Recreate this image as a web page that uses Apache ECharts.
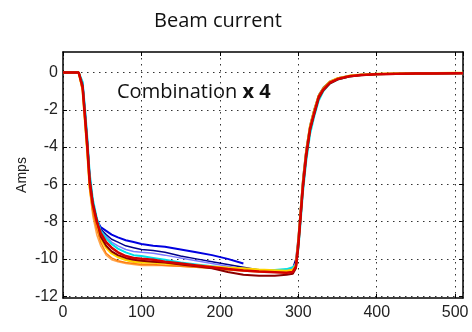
<!DOCTYPE html>
<html>
<head>
<meta charset="utf-8">
<script src="https://cdn.jsdelivr.net/npm/echarts@6/dist/echarts.min.js"></script>
<style>
  html, body { margin: 0; padding: 0; background: #fff; }
</style>
</head>
<body>
<div id="beamChart" style="width:472px;height:332px"></div>
<script>
// time samples (x) shared by all traces
var t = [0, 10, 20, 22, 25, 28, 31, 34, 38, 43, 48, 55, 62, 70, 80, 90, 100, 115, 130, 150,
  170, 190, 210, 230, 250, 270, 285, 293, 297, 300, 303, 306, 310, 315, 320, 326, 332, 340, 350, 365,
  380, 400, 425, 450, 475, 500, 510];

var blue = [0, 0, 0, -0.03, -0.6, -2.1, -3.7, -5.6, -7.0, -7.9, -8.3, -8.5, -8.7, -8.85, -9.0, -9.1, -9.2, -9.3, -9.35, -9.5,
  -9.65, -9.8, -10.0, -10.25, null, null, null, null, null, null, null, null, null, null, null, null, null, null, null, null,
  null, null, null, null, null, null, null];
var navy = [0, 0, 0, -0.03, -0.6, -2.1, -3.7, -5.6, -7.0, -7.9, -8.4, -8.7, -8.95, -9.1, -9.3, -9.4, -9.5, -9.55, -9.65, -9.85,
  -10.0, -10.15, -10.3, -10.45, -10.6, -10.62, -10.6, -10.5, -10.0, -8.8, -7.2, -5.6, -4.1, -2.8, -2.0, -1.2, -0.8, -0.48, -0.3, -0.17,
  -0.11, -0.08, -0.06, -0.05, -0.04, -0.03, -0.03];
var lavender = [0, 0, 0, -0.03, -0.6, -2.0, -3.6, -5.5, -6.9, -7.8, -8.5, -8.8, -9.1, -9.3, -9.5, -9.6, -9.65, -9.7, -9.8, -9.95,
  -10.1, -10.25, -10.4, -10.55, -10.6, -10.62, -10.6, -10.5, -10.2, -9.0, -7.4, -5.8, -4.3, -2.9, -2.1, -1.25, -0.85, -0.5, -0.32, -0.18,
  -0.12, -0.08, -0.06, -0.05, -0.04, -0.03, -0.03];
var cyan = [0, 0, 0, -0.02, -0.5, -1.9, -3.5, -5.4, -6.8, -7.8, -8.5, -8.9, -9.2, -9.45, -9.65, -9.8, -9.85, -9.95, -10.05, -10.2,
  -10.3, -10.4, -10.5, -10.55, -10.6, -10.6, -10.55, -10.45, -10.3, -9.5, -8.0, -6.4, -4.8, -3.3, -2.4, -1.5, -1.0, -0.6, -0.38, -0.22,
  -0.14, -0.1, -0.07, -0.05, -0.05, -0.04, -0.04];
var peach = [0, 0, 0, -0.05, -1.0, -2.7, -4.4, -6.3, -7.7, -8.7, -9.3, -9.8, -10.05, -10.15, -10.25, -10.3, -10.35, -10.35, -10.35, -10.4,
  -10.45, -10.5, -10.55, -10.6, -10.65, -10.7, -10.7, -10.68, -10.4, -9.3, -7.7, -6.1, -4.5, -3.1, -2.2, -1.3, -0.9, -0.55, -0.35, -0.2,
  -0.13, -0.1, -0.07, -0.05, -0.04, -0.04, -0.03];
var yellow = [0, 0, 0, -0.05, -0.9, -2.5, -4.2, -6.1, -7.3, -8.2, -8.9, -9.4, -9.7, -9.9, -10.05, -10.15, -10.2, -10.2, -10.25, -10.3,
  -10.35, -10.42, -10.48, -10.52, -10.58, -10.62, -10.65, -10.6, -10.35, -9.1, -7.5, -5.9, -4.3, -2.9, -2.1, -1.25, -0.85, -0.5, -0.32, -0.18,
  -0.12, -0.08, -0.06, -0.05, -0.04, -0.03, -0.03];
var orange = [0, 0, 0, -0.05, -1.0, -2.6, -4.3, -6.2, -7.5, -8.4, -9.1, -9.7, -9.95, -10.1, -10.2, -10.25, -10.3, -10.3, -10.35, -10.4,
  -10.45, -10.5, -10.6, -10.65, -10.7, -10.72, -10.75, -10.72, -10.45, -9.3, -7.7, -6.1, -4.5, -3.0, -2.2, -1.3, -0.9, -0.55, -0.35, -0.2,
  -0.13, -0.1, -0.07, -0.05, -0.04, -0.04, -0.03];
var maroon = [0, 0, 0, -0.05, -0.7, -2.2, -3.8, -5.7, -7.0, -7.9, -8.8, -9.3, -9.6, -9.8, -9.95, -10.05, -10.1, -10.15, -10.2, -10.3,
  -10.4, -10.5, -10.7, -10.85, -10.9, -10.9, -10.85, -10.8, -10.5, -9.4, -7.8, -6.2, -4.6, -3.1, -2.3, -1.4, -0.95, -0.6, -0.38, -0.22,
  -0.15, -0.1, -0.08, -0.06, -0.05, -0.05, -0.04];
var red = [0, 0, 0, -0.05, -0.8, -2.4, -4.0, -5.9, -7.1, -8.0, -8.6, -9.1, -9.4, -9.65, -9.85, -9.95, -10.0, -10.05, -10.15, -10.25,
  -10.35, -10.45, -10.55, -10.62, -10.68, -10.72, -10.75, -10.7, -10.4, -9.2, -7.6, -6.0, -4.4, -3.0, -2.2, -1.3, -0.9, -0.55, -0.35, -0.2,
  -0.14, -0.1, -0.07, -0.05, -0.05, -0.04, -0.04];

var yTicks = [-12, -10, -8, -6, -4, -2, 0];

var traces = [
  { name: "blue", data: blue, color: "#0000e0", width: 2 },
  { name: "navy", data: navy, color: "#00008b", width: 1.5 },
  { name: "lavender", data: lavender, color: "#7b7bff", width: 1.5 },
  { name: "cyan", data: cyan, color: "#00e0e8", width: 2 },
  { name: "peach", data: peach, color: "#ffa64d", width: 1.5 },
  { name: "yellow", data: yellow, color: "#ffd400", width: 2.5 },
  { name: "orange", data: orange, color: "#ff7f0e", width: 1.5 },
  { name: "maroon", data: maroon, color: "#8b0000", width: 2 },
  { name: "red", data: red, color: "#d40000", width: 2.5 }
];

var gridLine = { show: true, lineStyle: { color: "#333", width: 1, type: [1.5, 4.5] } };
var tickFont = { fontFamily: "Liberation Sans, Arial", fontSize: 16, color: "#222" };

var chart = echarts.init(document.getElementById("beamChart"));
chart.setOption({
  animation: false,
  title: {
    text: "Beam current",
    left: 149,
    top: 6,
    textStyle: { fontFamily: "Open Sans", fontWeight: "normal", fontSize: 20, color: "#111" }
  },
  grid: { left: 63, right: 9, top: 52, bottom: 34 },
  xAxis: [
    {
      type: "value", min: 0, max: 510, interval: 100,
      axisLine: { show: true, onZero: false, lineStyle: { color: "#000", width: 1.5 } },
      axisTick: { inside: true, length: 4, lineStyle: { color: "#000" } },
      axisLabel: Object.assign({ margin: 7, showMaxLabel: false }, tickFont),
      splitLine: gridLine
    },
    {
      type: "value", min: 0, max: 510, interval: 100, position: "top",
      axisLine: { show: true, onZero: false, lineStyle: { color: "#000", width: 1.5 } },
      axisTick: { inside: true, length: 4, lineStyle: { color: "#000" } },
      axisLabel: { show: false },
      splitLine: { show: false }
    }
  ],
  yAxis: [
    {
      type: "value", min: -12.1, max: 1.1,
      name: "Amps", nameLocation: "middle", nameGap: 34, nameMoveOverlap: false,
      nameTextStyle: { fontFamily: "Liberation Sans, Arial", fontSize: 14, color: "#222" },
      axisLine: { show: true, onZero: false, lineStyle: { color: "#000", width: 1.5 } },
      axisTick: { inside: true, length: 4, customValues: yTicks, lineStyle: { color: "#000" } },
      axisLabel: Object.assign({ margin: 5, customValues: yTicks }, tickFont),
      splitLine: gridLine
    },
    {
      type: "value", min: -12.1, max: 1.1, position: "right",
      axisLine: { show: true, onZero: false, lineStyle: { color: "#000", width: 1.5 } },
      axisTick: { inside: true, length: 4, customValues: yTicks, lineStyle: { color: "#000" } },
      axisLabel: { show: false },
      splitLine: { show: false }
    }
  ],
  graphic: [
    {
      type: "text", left: 117, top: 82,
      style: {
        text: "{a|Combination }{b|x 4}",
        rich: {
          a: { fontFamily: "Open Sans", fontSize: 20, fill: "#111" },
          b: { fontFamily: "Open Sans", fontSize: 20, fontWeight: "bold", fill: "#111" }
        }
      },
      z: 100
    }
  ],
  series: traces.map(function (tr) {
    return {
      name: tr.name,
      type: "line",
      xAxisIndex: 0,
      yAxisIndex: 0,
      showSymbol: false,
      connectNulls: false,
      lineStyle: { color: tr.color, width: tr.width },
      itemStyle: { color: tr.color },
      data: t.map(function (x, i) { return [x, tr.data[i]]; })
    };
  })
});
</script>
</body>
</html>
